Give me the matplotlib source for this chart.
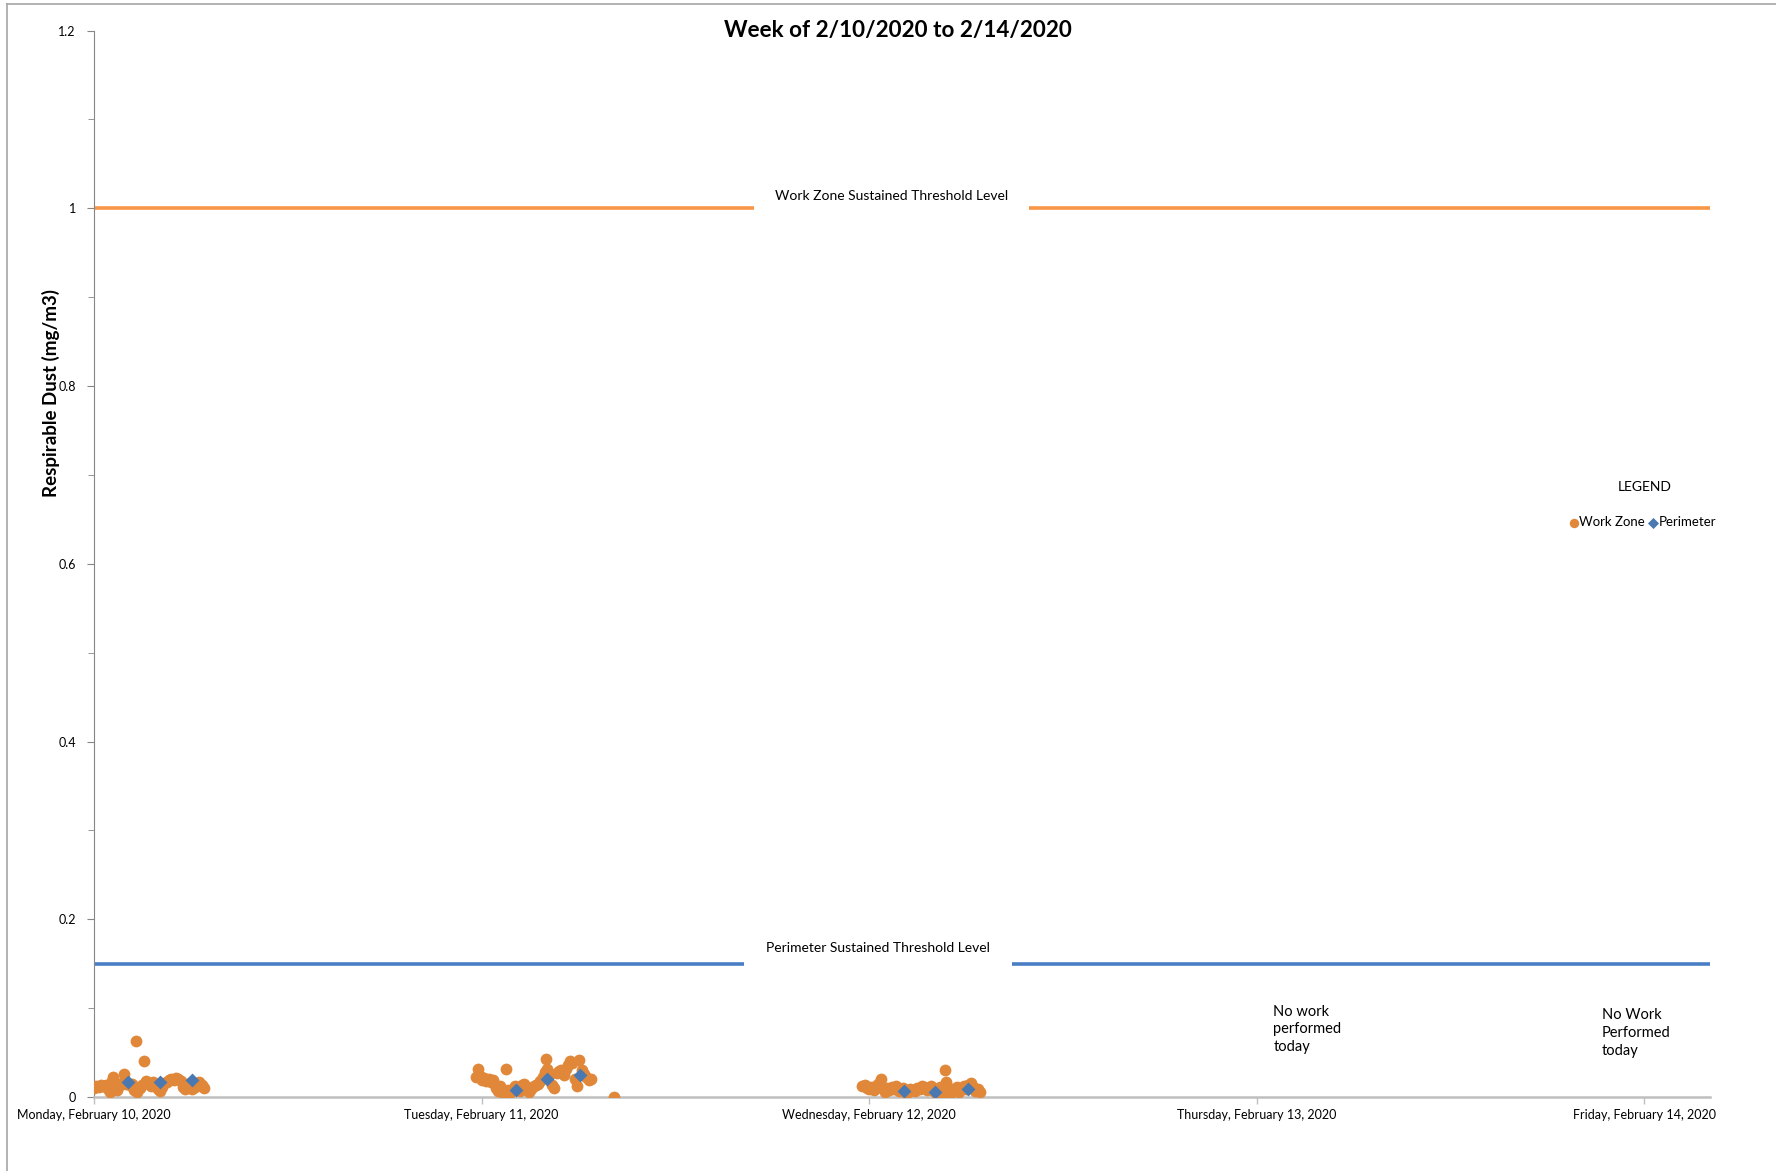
import numpy as np
import matplotlib
matplotlib.use("Agg")
import matplotlib.pyplot as plt
from matplotlib.ticker import MultipleLocator

plt.rcParams['font.family'] = ['Lato', 'DejaVu Sans']

# x positions are days from Monday 2/10/2020 00:00
day_labels = ["Monday, February 10, 2020", "Tuesday, February 11, 2020",
              "Wednesday, February 12, 2020", "Thursday, February 13, 2020",
              "Friday, February 14, 2020"]

mon_t = [0.000, 0.006, 0.012, 0.018, 0.024, 0.030, 0.036, 0.042, 0.046, 0.050,
         0.054, 0.060, 0.066, 0.072, 0.077, 0.082, 0.092, 0.098, 0.104, 0.108,
         0.112, 0.118, 0.124, 0.129, 0.134, 0.140, 0.146, 0.152, 0.158, 0.164,
         0.170, 0.176, 0.182, 0.188, 0.194, 0.200, 0.206, 0.212, 0.218, 0.224,
         0.230, 0.236, 0.242, 0.248, 0.254, 0.260, 0.266, 0.272, 0.278, 0.284]
mon_v = [0.010, 0.012, 0.011, 0.013, 0.012, 0.014, 0.009, 0.006, 0.018, 0.023,
         0.012, 0.008, 0.014, 0.016, 0.026, 0.015, 0.013, 0.015, 0.008, 0.063,
         0.006, 0.010, 0.014, 0.040, 0.018, 0.016, 0.012, 0.017, 0.015, 0.009,
         0.007, 0.011, 0.016, 0.017, 0.019, 0.020, 0.019, 0.021, 0.020, 0.018,
         0.011, 0.009, 0.012, 0.016, 0.009, 0.011, 0.014, 0.017, 0.013, 0.010]

tue_t = [0.985, 0.990, 0.995, 1.000, 1.006, 1.012, 1.018, 1.024, 1.030, 1.036,
         1.042, 1.048, 1.054, 1.058, 1.064, 1.068, 1.074, 1.080, 1.086, 1.092,
         1.098, 1.104, 1.110, 1.116, 1.122, 1.128, 1.134, 1.140, 1.146, 1.152,
         1.158, 1.164, 1.167, 1.170, 1.176, 1.182, 1.188, 1.194, 1.200, 1.206,
         1.212, 1.218, 1.224, 1.229, 1.234, 1.240, 1.246, 1.252, 1.258, 1.264,
         1.270, 1.276, 1.282, 1.342]
tue_v = [0.022, 0.031, 0.024, 0.019, 0.021, 0.018, 0.020, 0.017, 0.019, 0.010,
         0.007, 0.012, 0.006, 0.004, 0.031, 0.008, 0.005, 0.009, 0.012, 0.010,
         0.007, 0.013, 0.015, 0.011, 0.006, 0.009, 0.012, 0.014, 0.015, 0.018,
         0.022, 0.028, 0.043, 0.032, 0.026, 0.014, 0.010, 0.027, 0.029, 0.030,
         0.025, 0.031, 0.036, 0.040, 0.038, 0.020, 0.012, 0.042, 0.030, 0.026,
         0.022, 0.019, 0.020, 0.000]

wed_t = [1.982, 1.988, 1.994, 2.000, 2.006, 2.012, 2.018, 2.024, 2.030, 2.034,
         2.040, 2.046, 2.052, 2.058, 2.064, 2.070, 2.076, 2.082, 2.088, 2.094,
         2.100, 2.106, 2.112, 2.118, 2.124, 2.130, 2.136, 2.142, 2.148, 2.154,
         2.160, 2.166, 2.172, 2.178, 2.184, 2.190, 2.195, 2.198, 2.202, 2.208,
         2.214, 2.220, 2.226, 2.232, 2.238, 2.244, 2.250, 2.256, 2.262, 2.268,
         2.274, 2.280, 2.286]
wed_v = [0.012, 0.014, 0.010, 0.009, 0.011, 0.008, 0.012, 0.015, 0.020, 0.010,
         0.006, 0.010, 0.008, 0.011, 0.009, 0.012, 0.007, 0.008, 0.010, 0.005,
         0.006, 0.009, 0.008, 0.007, 0.010, 0.009, 0.012, 0.011, 0.008, 0.010,
         0.012, 0.007, 0.004, 0.009, 0.011, 0.005, 0.030, 0.017, 0.006, 0.003,
         0.009, 0.008, 0.011, 0.006, 0.010, 0.012, 0.009, 0.013, 0.016, 0.011,
         0.007, 0.009, 0.006]

perim_t = [0.087, 0.171, 0.254, 1.088, 1.170, 1.253, 2.089, 2.171, 2.255]
perim_v = [0.0165, 0.0165, 0.019, 0.008, 0.020, 0.025, 0.0067, 0.006, 0.0087]

work_zone_limit = 1.0
perimeter_limit = 0.15

orange_line = "#F79646"
orange_dot = "#E0873A"
blue_line = "#4A7EC4"
blue_dot = "#4A78B0"

fig = plt.figure(figsize=(17.76, 11.71), dpi=100)
ax = fig.add_axes([0.0529, 0.0632, 0.9101, 0.9107])

ax.axhline(work_zone_limit, color=orange_line, lw=2.6, zorder=2)
ax.axhline(perimeter_limit, color=blue_line, lw=2.6, zorder=2)

ax.text(2.058, 1.014, "Work Zone Sustained Threshold Level", ha='center', va='center',
        fontsize=10, zorder=3,
        bbox=dict(boxstyle='square,pad=1.5', fc='white', ec='none'))
ax.text(2.022, 0.168, "Perimeter Sustained Threshold Level", ha='center', va='center',
        fontsize=10, zorder=3,
        bbox=dict(boxstyle='square,pad=1.6', fc='white', ec='none'))

wz_t = mon_t + tue_t + wed_t
wz_v = mon_v + tue_v + wed_v
ax.scatter(wz_t, wz_v, s=72, color=orange_dot, marker='o', lw=0, zorder=4, label='Work Zone')
ax.scatter(perim_t, perim_v, s=50, color=blue_dot, marker='D', lw=0, zorder=5, label='Perimeter')

ax.text(3.043, 0.104, "No work\nperformed\ntoday", ha='left', va='top', fontsize=10.5,
        linespacing=1.35)
ax.text(3.89, 0.100, "No Work\nPerformed\ntoday", ha='left', va='top', fontsize=10.5,
        linespacing=1.35)

ax.text(4.0, 0.686, "LEGEND", ha='center', va='center', fontsize=10)
ax.legend(loc='center', bbox_to_anchor=(0.924, 0.554), bbox_transform=fig.transFigure,
          ncol=2, frameon=False, fontsize=9.5, handletextpad=-0.2, columnspacing=0.0,
          handlelength=1.2, markerscale=0.8)

ax.set_xlim(0, 4.17)
ax.set_ylim(0, 1.2)
ax.set_xticks(range(len(day_labels)))
ax.set_xticklabels(day_labels, fontsize=9)
ax.yaxis.set_major_locator(MultipleLocator(0.2))
ax.yaxis.set_minor_locator(MultipleLocator(0.1))
ax.set_yticks([0, 0.2, 0.4, 0.6, 0.8, 1.0, 1.2])
ax.set_yticklabels(["0", "0.2", "0.4", "0.6", "0.8", "1", "1.2"], fontsize=9)

ax.tick_params(axis='y', which='major', length=5, color='#868686', pad=8)
ax.tick_params(axis='y', which='minor', length=4, color='#868686')
ax.tick_params(axis='x', length=5, color='#BFBFBF', pad=4, width=1)

for s in ['top', 'right']:
    ax.spines[s].set_visible(False)
ax.spines['left'].set_color('#868686')
ax.spines['bottom'].set_color('#BFBFBF')
ax.spines['bottom'].set_linewidth(1.8)

ax.set_ylabel("Respirable Dust (mg/m3)", fontsize=13.5, fontweight='bold')
ax.yaxis.set_label_coords(-0.021, 0.66)
fig.text(0.5057, 0.974, "Week of 2/10/2020 to 2/14/2020", ha='center', va='center',
         fontsize=16.2, fontweight='bold')

# outer chart border (top and left)
fig.add_artist(plt.Line2D([0.004, 1.0], [0.9966, 0.9966], color='#A6A6A6', lw=1.2,
                          transform=fig.transFigure))
fig.add_artist(plt.Line2D([0.004, 0.004], [0.0, 0.9966], color='#A6A6A6', lw=1.2,
                          transform=fig.transFigure))

fig.savefig("out.png", dpi=100)
